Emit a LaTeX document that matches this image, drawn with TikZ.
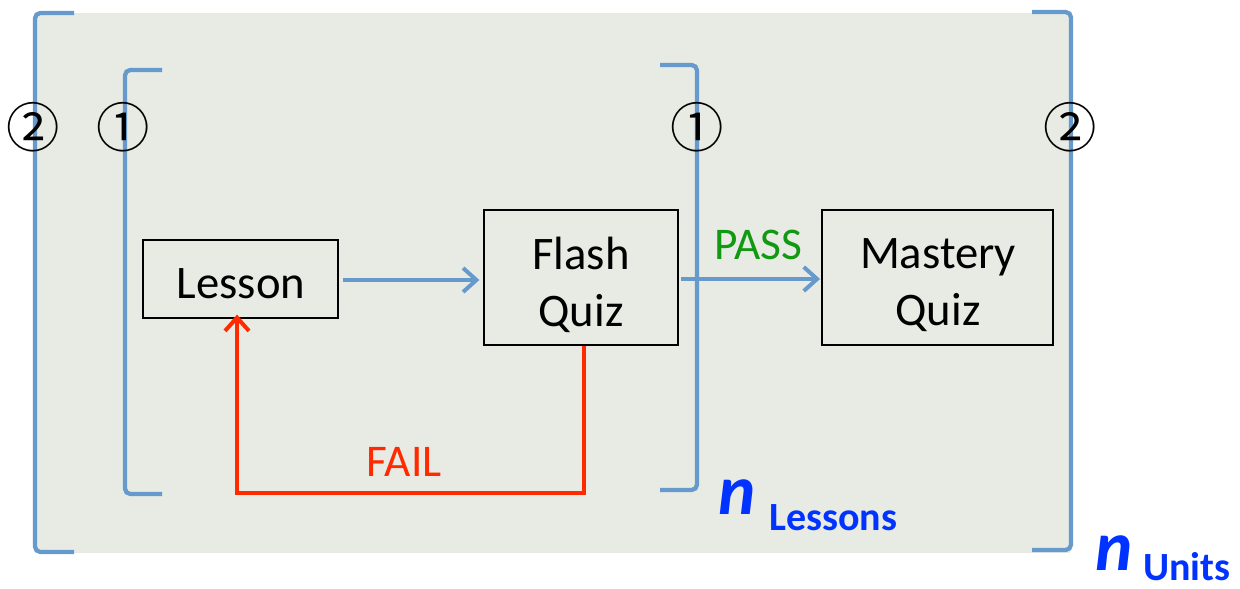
\documentclass[tikz,border=0pt]{standalone}
\usepackage{fontspec}
\setmainfont{Carlito}
\newfontfamily\symfont{Noto Sans CJK JP}
\usetikzlibrary{arrows.meta}
\definecolor{bgc}{HTML}{E8EBE3}
\definecolor{brk}{HTML}{6699CC}
\definecolor{failc}{HTML}{FF2A00}
\definecolor{passc}{HTML}{119911}
\definecolor{nblue}{HTML}{0033FF}
\tikzset{
  bracket/.style={draw=brk, line width=3.2pt, rounded corners=4pt, line cap=butt},
  boxnode/.style={draw=black, line width=0.9pt, fill=bgc, inner sep=0pt},
  boxtext/.style={align=center, font=\fontsize{35}{43}\selectfont, inner sep=0pt},
  circnum/.style={font=\symfont\fontsize{40}{44}\selectfont, inner sep=0pt},
  flow/.style={draw=brk, line width=3.2pt, -{Straight Barb[length=10pt, width=18pt, line width=3pt]}},
  failflow/.style={draw=failc, line width=3.2pt, -{Straight Barb[length=10pt, width=18pt, line width=3pt]}},
  lab/.style={font=\fontsize{34}{40}\selectfont, inner sep=0pt},
  nlab/.style={font=\bfseries\itshape\fontsize{53}{60}\selectfont, text=nblue, inner sep=0pt},
  unitlab/.style={font=\bfseries\fontsize{30}{36}\selectfont, text=nblue, inner sep=0pt, anchor=base west},
}
\begin{document}
\begin{tikzpicture}[x=0.75pt, y=-0.75pt]
\useasboundingbox (0,0) rectangle (1240,589);
\fill[bgc] (37,13) rectangle (1070,553);
% outer brackets
\draw[bracket] (74,13) -- (35,13) -- (35,552) -- (74,552);
\draw[bracket] (1032,12) -- (1071,12) -- (1071,550) -- (1032,550);
% inner brackets
\draw[bracket] (162,70) -- (125,70) -- (125,494) -- (162,494);
\draw[bracket] (660,65) -- (697,65) -- (697,490) -- (660,490);
% circled numbers
\node[circnum] (c2l) at (33,127) {②};
\node[circnum] (c1l) at (123,127) {①};
\node[circnum] (c1r) at (697,127) {①};
\node[circnum] (c2r) at (1070,127) {②};
% boxes
\node[boxnode, minimum width=195*0.75pt, minimum height=78*0.75pt] (lesson) at (240.5,279) {};
\node[boxnode, minimum width=194*0.75pt, minimum height=135*0.75pt] (flash) at (581,277.5) {};
\node[boxnode, minimum width=231*0.75pt, minimum height=135*0.75pt] (mastery) at (937.5,277.5) {};
\node[boxtext] (lessont) at (241,284) {Lesson};
\node[boxtext] (flasht) at (581,285) {Flash\\Quiz};
\node[boxtext] (masteryt) at (938,285) {Mastery\\Quiz};
% connectors
\draw[flow] (lesson.east |- 0,280) ++(4,0) -- ([xshift=-3pt]flash.west |- 0,280);
\draw[flow] ([xshift=2pt]flash.east |- 0,279) -- ([xshift=-1pt]mastery.west |- 0,279);
\coordinate (fc) at (584,493);
\coordinate (lc) at (237,493);
\draw[failflow] (flash.south -| 584,0) -- (fc) -- (lc) -- ([yshift=3pt]lesson.south -| 237,0);
% labels
\node[lab, text=passc] (pass) at (758,245) {PASS};
\node[lab, text=failc] (fail) at (404,462) {FAIL};
\node[nlab] (n1) at (737,497) {n};
\node[unitlab] (les) at (769,530) {Lessons};
\node[nlab] (n2) at (1114,553) {n};
\node[unitlab] (uni) at (1143,580) {Units};
\end{tikzpicture}
\end{document}
